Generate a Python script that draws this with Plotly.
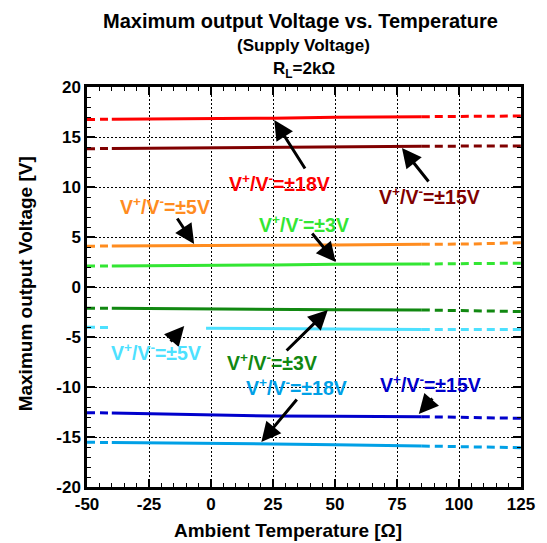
import plotly.graph_objects as go

# ---- data ----
T_LEFT = [-50, -40]
T_SOLID = [-40, -20, -2, 25, 50, 85]
T_RIGHT = [85, 105, 125]

X_TICKS = [-50, -25, 0, 25, 50, 75, 100, 125]
X_TICK_LABELS = ["-50", "-25", "0", "25", "50", "75", "100", "125"]
Y_TICKS = [-20, -15, -10, -5, 0, 5, 10, 15, 20]
Y_TICK_LABELS = ["-20", "-15", "-10", "-5", "0", "5", "10", "15", "20"]

series_names = ["+18V", "+15V", "+5V", "+3V", "-3V", "-5V", "-15V", "-18V"]
colors = ["#ff0000", "#800000", "#ff8c1f", "#33e633", "#118811", "#4de1ff", "#0000cc", "#00a0e6"]

left_vals = [
    [16.75, 16.78],
    [13.83, 13.85],
    [4.08, 4.10],
    [2.10, 2.10],
    [-2.12, -2.13],
    [-4.03, -4.05],
    [-12.57, -12.60],
    [-15.53, -15.55],
]
solid_vals = [
    [16.78, 16.80, 16.82, 16.88, 16.98, 17.03],
    [13.85, 13.88, 13.93, 13.97, 14.03, 14.08],
    [4.10, 4.11, 4.13, 4.17, 4.20, 4.27],
    [2.10, 2.11, 2.13, 2.20, 2.28, 2.30],
    [-2.13, -2.17, -2.20, -2.23, -2.27, -2.30],
    [None, None, -4.13, -4.17, -4.20, -4.25],
    [-12.60, -12.70, -12.80, -12.90, -12.93, -12.97],
    [-15.55, -15.58, -15.63, -15.70, -15.77, -15.90],
]
right_vals = [
    [17.03, 17.08, 17.10],
    [14.08, 14.10, 14.10],
    [4.27, 4.30, 4.43],
    [2.30, 2.33, 2.38],
    [-2.30, -2.35, -2.45],
    [-4.25, -4.25, -4.25],
    [-12.97, -13.03, -13.13],
    [-15.90, -15.97, -16.07],
]

# label text, label position (T, V), arrow head (T, V), arrow tail (T, V)
label_texts = ["±18V", "±15V", "±5V", "±3V", "±3V", "±5V", "±15V", "±18V"]
label_pos = [(27.6, 10.4), (88.2, 9.1), (-18.4, 8.1), (37.5, 6.3),
             (24.7, -7.5), (-22.0, -6.5), (88.6, -9.7), (34.3, -10.0)]
arrow_head = [(25.5, 16.7), (77.0, 13.9), (-6.8, 4.3), (50.3, 2.5),
              (47.1, -2.3), (-10.8, -3.9), (83.8, -12.7), (20.3, -15.5)]
arrow_tail = [(38.3, 11.7), (88.2, 10.4), (-14.0, 7.0), (40.3, 5.5),
              (29.9, -6.5), (-16.8, -5.6), (89.8, -11.0), (35.1, -11.1)]

FONT = "Liberation Sans, Arial, sans-serif"

fig = go.Figure()
for i, name in enumerate(series_names):
    c = colors[i]
    fig.add_trace(go.Scatter(x=T_LEFT, y=left_vals[i], mode="lines",
                             line=dict(color=c, width=3, dash="8px,5px"),
                             showlegend=False, hoverinfo="skip"))
    fig.add_trace(go.Scatter(x=T_SOLID, y=solid_vals[i], mode="lines",
                             line=dict(color=c, width=3),
                             connectgaps=False, showlegend=False, name=name))
    fig.add_trace(go.Scatter(x=T_RIGHT, y=right_vals[i], mode="lines",
                             line=dict(color=c, width=3, dash="8px,5px"),
                             showlegend=False, hoverinfo="skip"))

annotations = []
for i in range(len(series_names)):
    annotations.append(dict(
        x=arrow_head[i][0], y=arrow_head[i][1], xref="x", yref="y",
        ax=arrow_tail[i][0], ay=arrow_tail[i][1], axref="x", ayref="y",
        text="", showarrow=True, arrowhead=2, arrowsize=1.3, arrowwidth=3,
        arrowcolor="black"))
    annotations.append(dict(
        x=label_pos[i][0], y=label_pos[i][1], xref="x", yref="y",
        text="<b>V<sup>+</sup>/V<sup>-</sup>=" + label_texts[i] + "</b>",
        showarrow=False, font=dict(family=FONT, size=19.5, color=colors[i]),
        xanchor="center", yanchor="middle"))

# titles
annotations += [
    dict(text="<b>Maximum output Voltage vs. Temperature</b>", x=0.493, y=1.165,
         xref="paper", yref="paper", showarrow=False,
         font=dict(family=FONT, size=20, color="black"), yanchor="middle"),
    dict(text="<b>(Supply Voltage)</b>", x=0.498, y=1.1025,
         xref="paper", yref="paper", showarrow=False,
         font=dict(family=FONT, size=17, color="black"), yanchor="middle"),
    dict(text="<b>R<sub>L</sub>=2kΩ</b>", x=0.5, y=1.0425,
         xref="paper", yref="paper", showarrow=False,
         font=dict(family=FONT, size=17, color="black"), yanchor="middle"),
    dict(text="<b>Ambient Temperature [Ω]</b>", x=0.464, y=-0.1075,
         xref="paper", yref="paper", showarrow=False,
         font=dict(family=FONT, size=19, color="black"), yanchor="middle"),
    dict(text="<b>Maximum output Voltage [V]</b>", x=-0.1416, y=0.508,
         xref="paper", yref="paper", showarrow=False, textangle=-90,
         font=dict(family=FONT, size=19, color="black"),
         xanchor="center", yanchor="middle"),
]

axis_common = dict(
    ticks="inside", ticklen=8, tickwidth=1.5, tickcolor="black",
    showline=True, linecolor="black", linewidth=2.5, mirror="ticks",
    showgrid=True, gridcolor="black", gridwidth=1, griddash="2px,2px",
    zeroline=False,
    tickfont=dict(family=FONT, size=17, color="black", weight="bold"),
)

fig.update_layout(
    width=547, height=543,
    margin=dict(l=87, r=22, t=87, b=56),
    plot_bgcolor="white", paper_bgcolor="white",
    annotations=annotations,
    xaxis=dict(range=[-50, 125], tickmode="array", tickvals=X_TICKS,
               ticktext=X_TICK_LABELS,
               minor=dict(tickmode="linear", tick0=-50, dtick=5, ticks="inside",
                          ticklen=4, tickcolor="black", tickwidth=1, showgrid=False),
               **axis_common),
    yaxis=dict(range=[-20, 20], tickmode="array", tickvals=Y_TICKS,
               ticktext=Y_TICK_LABELS,
               minor=dict(tickmode="linear", tick0=-20, dtick=1, ticks="inside",
                          ticklen=4, tickcolor="black", tickwidth=1, showgrid=False),
               **axis_common),
)

fig.write_html("out.html", config={"displayModeBar": False},
               post_script="document.body.style.margin='0';")
